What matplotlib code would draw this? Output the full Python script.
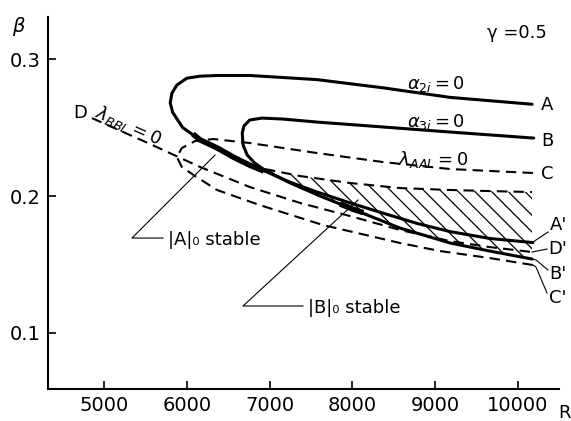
import matplotlib.pyplot as plt

plt.rcParams['font.family'] = ['DejaVu Sans']
plt.rcParams['hatch.linewidth'] = 0.9

# ---- data (R, beta) ----
# alpha_2i = 0  (A ... A')
a_R = [10170, 9180, 8370, 7570, 6760, 6370, 6160, 6000, 5880, 5820, 5800, 5830, 5950,
       6160, 6370, 6560, 6760, 6970, 7250, 7570, 7970, 8370, 8780, 9180, 9660, 10180]
a_beta = [0.267, 0.272, 0.279, 0.285, 0.288, 0.288, 0.2875, 0.286, 0.281, 0.275, 0.268, 0.261, 0.250,
          0.241, 0.235, 0.2285, 0.2225, 0.2175, 0.210, 0.203, 0.195, 0.1875, 0.180, 0.174, 0.169, 0.166]

# alpha_3i = 0  (B ... B')
b_R = [10190, 9180, 8370, 7570, 7160, 6910, 6760, 6690, 6670, 6680, 6730, 6820, 6940,
       7250, 7610, 7970, 8575, 9180, 9660, 10170]
b_beta = [0.2423, 0.2467, 0.2504, 0.254, 0.2562, 0.2569, 0.2555, 0.2511, 0.246, 0.2372, 0.2299, 0.2241, 0.219,
          0.2095, 0.200, 0.1912, 0.1766, 0.1657, 0.1598, 0.154]

# lambda_AAL = 0  (C ... C')
c_R = [10180, 9180, 8370, 7570, 6760, 6320, 6100, 5940, 5880, 5940, 6100, 6365, 6880,
       7645, 8575, 9060, 9660, 10180]
c_beta = [0.2168, 0.2197, 0.2248, 0.2314, 0.2387, 0.2416, 0.2401, 0.235, 0.2285, 0.2212, 0.2146, 0.2044, 0.1934,
          0.1788, 0.1657, 0.1598, 0.1547, 0.1496]

# lambda_BBL = 0  (D ... D')
d_R = [4855, 5556, 6160, 6760, 7370, 7970, 8575, 9180, 9660, 10170]
d_beta = [0.2569, 0.238, 0.2212, 0.2066, 0.1949, 0.1854, 0.1752, 0.1671, 0.1627, 0.1591]

# hatched region
h_R = [6944, 7367, 7971, 8575, 9179, 9662, 10169]
h_top = [0.2197, 0.2146, 0.2095, 0.2058, 0.2044, 0.2036, 0.2029]
h_low = [0.219, 0.2066, 0.1912, 0.1766, 0.1657, 0.1598, 0.154]

# thick "stable" parts
sa_R = [6100, 6160, 6370, 6560, 6760, 6900]
sa_beta = [0.244, 0.241, 0.235, 0.2285, 0.2225, 0.219]
sb_R = [7880, 8000, 8100]
sb_beta = [0.1935, 0.1905, 0.1885]

x_ticks = [5000, 6000, 7000, 8000, 9000, 10000]
y_ticks = [0.1, 0.2, 0.3]
y_tick_labels = ['0.1', '0.2', '0.3']

fig = plt.figure(figsize=(5.71, 4.21), dpi=100)
ax = fig.add_axes([48 / 571, 32 / 421, 511 / 571, 372 / 421])

dash = (0, (5, 3))
ax.plot(a_R, a_beta, color='black', lw=2.2, solid_capstyle='round')
ax.plot(b_R, b_beta, color='black', lw=2.2, solid_capstyle='round')
ax.plot(c_R, c_beta, color='black', lw=1.5, linestyle=dash)
ax.plot(d_R, d_beta, color='black', lw=1.5, linestyle=dash)
ax.plot(h_R, h_top, color='black', lw=1.5, linestyle=dash)
ax.fill_between(h_R, h_top, h_low, facecolor='none', edgecolor='black', hatch='\\\\', linewidth=0)
ax.plot(sa_R, sa_beta, color='black', lw=4)
ax.plot(sb_R, sb_beta, color='black', lw=4)

# leader lines
thin = dict(color='black', lw=0.8, clip_on=False)
ax.plot([5713, 5338, 6341], [0.1693, 0.1693, 0.2299], **thin)
ax.plot([7403, 6679, 8068], [0.1197, 0.1197, 0.1971], **thin)
ax.plot([10181, 10362], [0.1664, 0.1737], **thin)
ax.plot([10169, 10350], [0.1591, 0.1613], **thin)
ax.plot([10169, 10217, 10362], [0.154, 0.1533, 0.146], **thin)
ax.plot([10181, 10217, 10350], [0.1496, 0.1482, 0.1292], **thin)

# texts
fs = 13
ax.text(5773, 0.1678, '|A|₀ stable', fontsize=fs, va='center', ha='left')
ax.text(7464, 0.1182, '|B|₀ stable', fontsize=fs, va='center', ha='left')
ax.text(9010, 0.2818, r'$\alpha_{2i}=0$', fontsize=fs, ha='center', va='center')
ax.text(9010, 0.254, r'$\alpha_{3i}=0$', fontsize=fs, ha='center', va='center')
ax.text(8973, 0.2263, r'$\lambda_{AAL}=0$', fontsize=fs, ha='center', va='center')
ax.text(5290, 0.2511, r'$\lambda_{BBL}=0$', fontsize=fs, ha='center', va='center', rotation=-24)
ax.text(9988, 0.319, 'γ =0.5', fontsize=fs, ha='center', va='center')
ax.text(4710, 0.2606, 'D', fontsize=fs, ha='center', va='center')
for lab, r, b in [('A', 10350, 0.2664), ('B', 10350, 0.2401), ('C', 10350, 0.2160),
                  ("A'", 10495, 0.1788), ("D'", 10483, 0.1613), ("B'", 10483, 0.143), ("C'", 10483, 0.1255)]:
    ax.text(r, b, lab, fontsize=fs, ha='center', va='center', clip_on=False)

ax.text(10567, 0.0416, 'R', fontsize=fs, ha='center', va='center', clip_on=False)
ax.text(3961, 0.3234, 'β', fontsize=fs + 1, ha='center', va='center', style='italic', clip_on=False)

ax.set_xlim(4324, 10495)
ax.set_ylim(0.0591, 0.3307)
ax.set_xticks(x_ticks)
ax.set_xticklabels([str(v) for v in x_ticks])
ax.set_yticks(y_ticks)
ax.set_yticklabels(y_tick_labels)
ax.tick_params(direction='in', length=6, width=1.2, labelsize=14, pad=5)
for s in ['top', 'right']:
    ax.spines[s].set_visible(False)
for s in ['left', 'bottom']:
    ax.spines[s].set_linewidth(1.5)

fig.savefig('out.png', dpi=100)
